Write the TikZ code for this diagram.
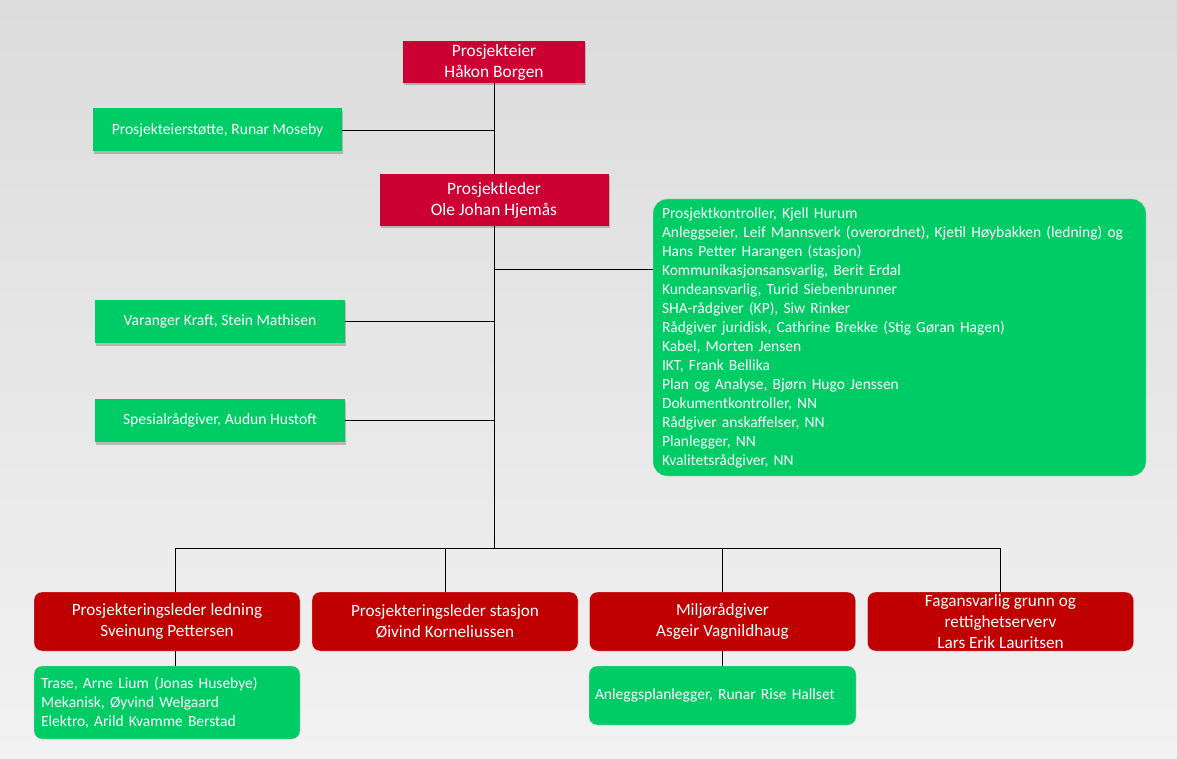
\documentclass[tikz,border=0pt]{standalone}
\usepackage{fontspec}
\setmainfont{Carlito}
\usetikzlibrary{positioning, shadows}
\definecolor{bgtop}{HTML}{DCDCDC}
\definecolor{bgbot}{HTML}{F2F2F2}
\definecolor{lederred}{HTML}{CC0033}
\definecolor{teamred}{HTML}{C00000}
\definecolor{staffgreen}{HTML}{00CC66}

\begin{document}
\begin{tikzpicture}[x=1pt, y=-1pt,
  ln/.style={draw=black, line width=0.8pt},
  shd/.style={drop shadow={shadow xshift=1pt, shadow yshift=-2.5pt,
              opacity=0.3, fill=black!70}},
  lead/.style={shd, fill=lederred, text=white, align=center, inner sep=0pt,
               font=\fontsize{17.4}{21}\selectfont},
  staff/.style={shd, fill=staffgreen, text=white, align=center, inner sep=0pt,
                minimum width=250pt, minimum height=43pt,
                font=\fontsize{15.6}{19}\selectfont},
  team/.style={fill=teamred, draw=black!15, line width=0.4pt, text=white,
               align=center, rounded corners=8pt, inner sep=0pt,
               minimum width=266pt, minimum height=59pt,
               font=\fontsize{17.2}{21}\selectfont},
  sub/.style={fill=staffgreen, draw=black!15, line width=0.4pt, text=white,
              align=left, rounded corners=8pt, inner sep=0pt,
              font=\fontsize{15.5}{19}\selectfont}]
\useasboundingbox (0,0) rectangle (1177,759);
\shade[top color=bgtop, bottom color=bgbot] (0,0) rectangle (1177,759);

\node[lead, minimum width=182pt, minimum height=42pt] (eier) at (494,62)
  {Prosjekteier\\Håkon Borgen};
\node[staff, minimum width=249pt] (stotte) at (217.5,130)
  {Prosjekteierstøtte, Runar Moseby};
\node[lead, minimum width=229pt, minimum height=52pt] (leder) at (494,200)
  {Prosjektleder\\Ole Johan Hjemås};
\node[staff] (varanger) at (220,321.5) {Varanger Kraft, Stein Mathisen};
\node[staff] (spesial) at (220,420.5) {Spesialrådgiver, Audun Hustoft};
\node[sub, rounded corners=14pt, minimum width=493pt, minimum height=277pt,
      text width=475pt] (stab) at (899.5,337.5)
  {Prosjektkontroller, Kjell Hurum\\
   Anleggseier, Leif Mannsverk (overordnet), Kjetil Høybakken (ledning) og\\
   Hans Petter Harangen (stasjon)\\
   Kommunikasjonsansvarlig, Berit Erdal\\
   Kundeansvarlig, Turid Siebenbrunner\\
   SHA-rådgiver (KP), Siw Rinker\\
   Rådgiver juridisk, Cathrine Brekke (Stig Gøran Hagen)\\
   Kabel, Morten Jensen\\
   IKT, Frank Bellika\\
   Plan og Analyse, Bjørn Hugo Jenssen\\
   Dokumentkontroller, NN\\
   Rådgiver anskaffelser, NN\\
   Planlegger, NN\\
   Kvalitetsrådgiver, NN};

\node[team] (ledning) at (167,621.5)
  {Prosjekteringsleder ledning\\Sveinung Pettersen};
\node[team] (stasjon) at (445,621.5)
  {Prosjekteringsleder stasjon\\Øivind Korneliussen};
\node[team] (miljo) at (722.5,621.5)
  {Miljørådgiver\\Asgeir Vagnildhaug};
\node[team] (grunn) at (1000.5,621.5)
  {Fagansvarlig grunn og\\rettighetserverv\\Lars Erik Lauritsen};
\node[sub, minimum width=266pt, minimum height=73pt, text width=252pt]
  (ledsub) at (167,702.5)
  {Trase, Arne Lium (Jonas Husebye)\\Mekanisk, Øyvind Welgaard\\Elektro, Arild Kvamme Berstad};
\node[sub, minimum width=267pt, minimum height=59pt, text width=255pt]
  (miljosub) at (722.5,695.5) {Anleggsplanlegger, Runar Rise Hallset};

\coordinate (bus) at (494,548);
\coordinate (busL) at (175,548);
\coordinate (busR) at (1000.5,548);
\coordinate (stabjoin) at (494,269);
\draw[ln] (eier) -- (leder);
\draw[ln] (stotte.east) -- (stotte.east -| eier.south);
\draw[ln] (leder.south) -- (bus);
\draw[ln] (stabjoin) -- (stabjoin -| stab.west);
\draw[ln] (varanger.east) -- (varanger.east -| leder.south);
\draw[ln] (spesial.east) -- (spesial.east -| leder.south);
\draw[ln] (busL) -- (busR);
\draw[ln] (busL) -- (busL |- ledning.north);
\draw[ln] (stasjon.north |- bus) -- (stasjon.north);
\draw[ln] (miljo.north |- bus) -- (miljo.north);
\draw[ln] (busR) -- (grunn.north);
\draw[ln] (ledning.south -| busL) -- (ledsub.north -| busL);
\draw[ln] (miljo.south) -- (miljosub.north);
\end{tikzpicture}
\end{document}
